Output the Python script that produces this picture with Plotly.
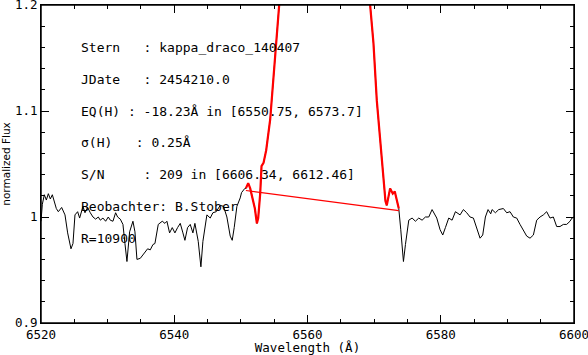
import plotly.graph_objects as go

wave = [6520.0, 6520.2, 6520.5, 6520.8, 6521.1, 6521.4, 6521.7, 6522.0, 6522.3, 6522.6,
        6523.1, 6523.6, 6524.0, 6524.5, 6524.8, 6525.1, 6525.5, 6525.8, 6526.3, 6526.6,
        6527.0, 6527.4, 6527.8, 6528.2, 6528.6, 6528.9, 6529.3, 6529.7, 6530.1, 6530.4,
        6530.8, 6531.2, 6531.5, 6531.9, 6532.3, 6532.6, 6532.9, 6533.3, 6533.8, 6534.1,
        6534.4, 6534.9, 6535.6, 6536.0, 6536.4, 6536.8, 6537.1, 6537.6, 6538.2, 6538.6,
        6538.9, 6539.3, 6539.7, 6540.1, 6540.5, 6540.9, 6541.3, 6541.6, 6542.0, 6542.4,
        6542.8, 6543.1, 6543.6, 6544.0, 6544.3, 6544.9, 6545.4, 6545.8, 6546.3, 6546.6,
        6546.9, 6547.4, 6547.9, 6548.4, 6548.7, 6549.0, 6549.4, 6549.9, 6550.1, 6550.6,
        6550.75, 6551.1, 6551.4, 6551.7, 6552.1, 6552.4, 6552.6, 6552.9, 6553.1, 6553.4,
        6553.8, 6554.4, 6554.9, 6555.4, 6555.8, 6556.5, 6563.0, 6568.8, 6569.4, 6569.9,
        6570.4, 6571.0, 6571.3, 6571.7, 6571.9, 6572.2, 6572.4, 6572.8, 6573.1, 6573.4,
        6573.7, 6574.0, 6574.3, 6574.4, 6574.7, 6575.2, 6575.7, 6576.2, 6576.7, 6577.2,
        6577.7, 6578.2, 6578.7, 6579.1, 6579.4, 6579.9, 6580.3, 6580.7, 6581.2, 6581.7,
        6582.2, 6582.9, 6583.4, 6583.9, 6584.4, 6584.9, 6585.4, 6585.9, 6586.3, 6586.7,
        6587.1, 6587.5, 6587.7, 6588.2, 6588.7, 6589.4, 6589.9, 6590.4, 6590.9, 6591.4,
        6591.9, 6592.4, 6592.9, 6593.4, 6593.9, 6594.4, 6594.9, 6595.4, 6595.9, 6596.4,
        6596.9, 6597.4, 6597.9, 6598.4, 6598.9, 6599.4, 6599.7, 6600.0]

flux = [0.996, 1.012, 1.021, 1.016, 1.022, 1.017, 1.021, 1.013, 1.008, 1.005,
        1.009, 1.002, 0.985, 0.970, 0.975, 1.002, 1.005, 0.999, 1.010, 1.004,
        1.009, 1.004, 1.000, 0.998, 1.000, 0.997, 0.999, 0.996, 1.000, 0.997,
        0.996, 1.004, 1.000, 0.998, 0.993, 0.975, 0.958, 0.986, 0.996, 0.986,
        0.960, 0.961, 0.967, 0.970, 0.969, 0.974, 0.975, 0.993, 0.996, 0.994,
        0.996, 0.985, 0.990, 0.985, 0.990, 0.994, 0.985, 0.978, 0.990, 0.993,
        0.985, 0.994, 0.977, 0.953, 0.977, 1.002, 0.999, 1.004, 1.005, 1.008,
        1.011, 1.010, 1.000, 0.982, 0.978, 0.990, 1.010, 1.018, 1.023, 1.027,
        1.027, 1.032, 1.027, 1.019, 1.008, 0.994, 0.999, 1.022, 1.048, 1.051,
        1.063, 1.092, 1.132, 1.173, 1.200, 1.260, 2.600, 1.260, 1.200, 1.164,
        1.110, 1.063, 1.038, 1.015, 1.011, 1.022, 1.027, 1.022, 1.024, 1.016,
        1.008, 0.988, 0.966, 0.958, 0.974, 0.997, 0.999, 0.996, 0.999, 0.997,
        1.000, 1.000, 1.007, 1.002, 0.999, 0.988, 0.983, 0.990, 0.999, 0.997,
        1.005, 1.002, 1.007, 1.004, 1.000, 0.999, 0.990, 0.980, 0.983, 1.000,
        1.007, 1.003, 1.007, 1.004, 1.007, 1.008, 1.004, 1.005, 1.000, 0.999,
        0.993, 0.988, 0.982, 0.980, 0.983, 0.997, 1.000, 1.002, 1.005, 0.999,
        1.000, 0.991, 0.991, 0.993, 0.993, 0.996, 0.999, 1.000]

eq_range = [6550.75, 6573.7]
cont_wave = [6550.75, 6573.7]
cont_flux = [1.025, 1.006]

x_tickvals = [6520, 6540, 6560, 6580, 6600]
x_ticktext = ["6520", "6540", "6560", "6580", "6600"]
y_tickvals = [0.9, 1.0, 1.1, 1.2]
y_ticktext = ["0.9", "1", "1.1", "1.2"]

info_lines = [
    "Stern   : kappa_draco_140407",
    "JDate   : 2454210.0",
    "EQ(H) : -18.23Å in [6550.75, 6573.7]",
    "σ(H)   : 0.25Å",
    "S/N     : 209 in [6606.34, 6612.46]",
    "Beobachter: B.Stober",
    "R=10900",
]
info_y = [1.16, 1.13, 1.10, 1.07, 1.04, 1.01, 0.98]

red_w = [w for w in wave if eq_range[0] <= w <= eq_range[1]]
red_f = [f for w, f in zip(wave, flux) if eq_range[0] <= w <= eq_range[1]]

MONO = "DejaVu Sans Mono"

fig = go.Figure()
fig.add_trace(go.Scatter(x=wave, y=flux, mode="lines",
                         line=dict(color="black", width=1), hoverinfo="skip"))
fig.add_trace(go.Scatter(x=red_w, y=red_f, mode="lines",
                         line=dict(color="red", width=2.2), hoverinfo="skip"))
fig.add_trace(go.Scatter(x=cont_wave, y=cont_flux, mode="lines",
                         line=dict(color="red", width=1.2), hoverinfo="skip"))

annotations = []
for txt, yy in zip(info_lines, info_y):
    annotations.append(dict(x=6525.7, y=yy, xref="x", yref="y", text=txt,
                            showarrow=False, xanchor="left", yanchor="middle",
                            font=dict(family=MONO, size=13, color="black")))

frame = [
    dict(type="line", xref="paper", yref="paper", x0=0, x1=1, y0=1, y1=1,
         line=dict(color="black", width=1.5), layer="above"),
    dict(type="line", xref="paper", yref="paper", x0=1, x1=1, y0=0, y1=1,
         line=dict(color="black", width=1.5), layer="above"),
    dict(type="line", xref="paper", yref="paper", x0=0, x1=1, y0=0, y1=0,
         line=dict(color="black", width=1.5), layer="above"),
    dict(type="line", xref="paper", yref="paper", x0=0, x1=0, y0=0, y1=1,
         line=dict(color="black", width=1.5), layer="above"),
]

fig.update_layout(
    width=588, height=355,
    margin=dict(l=41, r=14, t=5, b=32, autoexpand=False),
    paper_bgcolor="white", plot_bgcolor="white",
    showlegend=False,
    annotations=annotations,
    font=dict(family=MONO, size=12.5, color="black"),
    shapes=frame,
)
fig.update_xaxes(
    range=[6520, 6600], tickmode="array", tickvals=x_tickvals, ticktext=x_ticktext,
    ticks="inside", ticklen=8, tickwidth=1, tickcolor="black",
    minor=dict(tickmode="linear", tick0=6520, dtick=5, ticks="inside", ticklen=4,
               tickwidth=1, tickcolor="black"),
    showline=True, linecolor="black", linewidth=1, mirror="allticks",
    showgrid=False, zeroline=False, automargin=False, ticklabeloverflow="allow",
    tickfont=dict(family=MONO, size=12.5),
    title=dict(text="Wavelength (Å)", font=dict(family=MONO, size=12.5), standoff=5),
)
fig.update_yaxes(
    range=[0.9, 1.2], tickmode="array", tickvals=y_tickvals, ticktext=y_ticktext,
    ticks="inside", ticklen=8, tickwidth=1, tickcolor="black",
    minor=dict(tickmode="linear", tick0=0.9, dtick=0.02, ticks="inside", ticklen=4,
               tickwidth=1, tickcolor="black"),
    showline=True, linecolor="black", linewidth=1, mirror="allticks",
    showgrid=False, zeroline=False, automargin=False, ticklabeloverflow="allow",
    tickfont=dict(family=MONO, size=12.5),
    title=dict(text="normalized Flux", font=dict(family="DejaVu Sans", size=10.5), standoff=2),
)

fig.write_html("out.html", config={"displayModeBar": False},
               post_script="document.body.style.margin='0';document.body.style.overflow='hidden';")
